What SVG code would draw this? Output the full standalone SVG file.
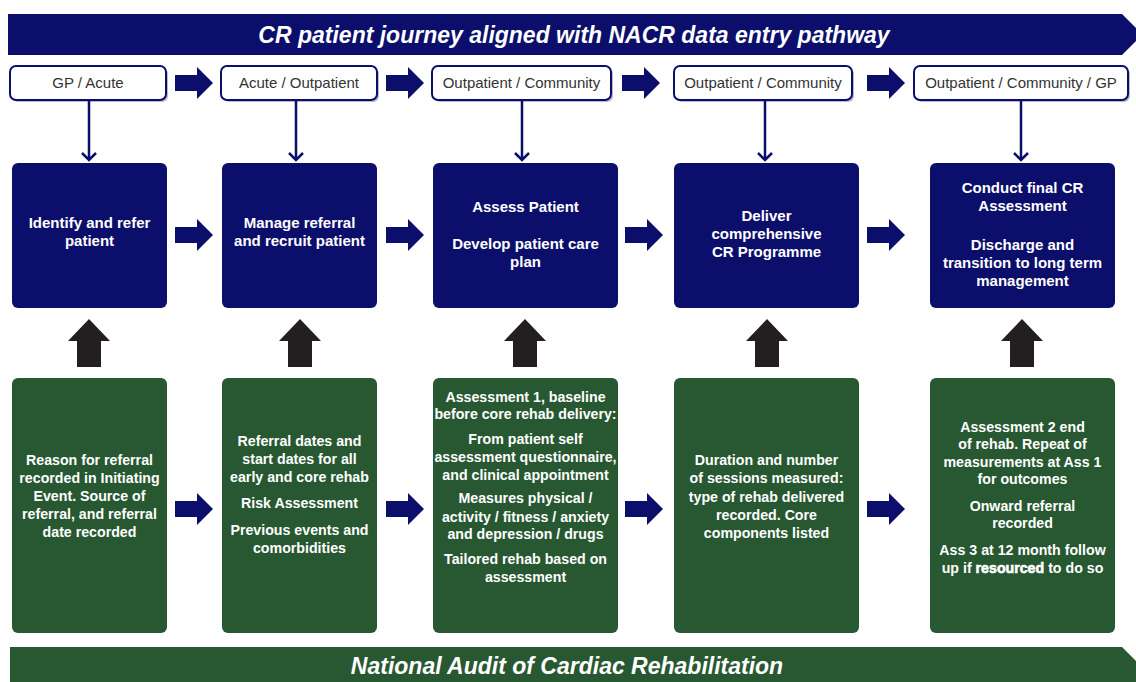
<svg xmlns="http://www.w3.org/2000/svg" width="1136" height="682" viewBox="0 0 1136 682">
<style>
.navy{fill:#0b0e6b}
.green{fill:#285832}
.loc{fill:#ffffff;stroke:#0b0e6b;stroke-width:2}
.shadow{fill:#b9bcc8}
.loct{font-family:"Liberation Sans",Arial,sans-serif;font-size:15px;fill:#333333;text-anchor:middle}
.bt{font-family:"Liberation Sans",Arial,sans-serif;font-size:15px;font-weight:bold;fill:#ffffff;text-anchor:middle}
.gt{font-family:"Liberation Sans",Arial,sans-serif;font-size:14.2px;font-weight:bold;fill:#ffffff;text-anchor:middle}
.hd{font-family:"Liberation Sans",Arial,sans-serif;font-size:23px;font-weight:bold;font-style:italic;fill:#ffffff;text-anchor:middle}
.conn{stroke:#0b0e6b;stroke-width:2.5;fill:none}
.blk{fill:#231f20}
.res{stroke:#ffffff;stroke-width:0.6}
</style>
<defs>
<path id="rarrow" d="M0,-8 H22 V-16 L38,0 L22,16 V8 H0 Z"/>
<path id="uarrow" d="M0,0 L21,22 H12 V48 H-12 V22 H-21 Z"/>
</defs>

<g id="banner-top">
<path class="navy" d="M8,14 H1122 L1136,28 V41 L1122,55 H8 Z"/>
<text class="hd" x="574" y="43">CR patient journey aligned with NACR data entry pathway</text>
</g>

<g id="banner-bottom">
<path class="green" d="M10,647 H1122 L1136,661 V682 H10 Z"/>
<text class="hd" x="567" y="674">National Audit of Cardiac Rehabilitation</text>
</g>

<g id="loc1">
<rect class="shadow" x="12" y="68" width="156" height="34" rx="6"/>
<rect class="loc" x="10" y="66" width="156" height="34" rx="6"/>
<text class="loct" x="88" y="88">GP / Acute</text>
</g>
<g id="loc2">
<rect class="shadow" x="223" y="68" width="156" height="34" rx="6"/>
<rect class="loc" x="221" y="66" width="156" height="34" rx="6"/>
<text class="loct" x="299" y="88">Acute / Outpatient</text>
</g>
<g id="loc3">
<rect class="shadow" x="434" y="68" width="179" height="34" rx="6"/>
<rect class="loc" x="432" y="66" width="179" height="34" rx="6"/>
<text class="loct" x="521.5" y="88">Outpatient / Community</text>
</g>
<g id="loc4">
<rect class="shadow" x="676" y="68" width="178" height="34" rx="6"/>
<rect class="loc" x="674" y="66" width="178" height="34" rx="6"/>
<text class="loct" x="763" y="88">Outpatient / Community</text>
</g>
<g id="loc5">
<rect class="shadow" x="916" y="68" width="214" height="34" rx="6"/>
<rect class="loc" x="914" y="66" width="214" height="34" rx="6"/>
<text class="loct" x="1021" y="88">Outpatient / Community / GP</text>
</g>

<g id="step1">
<rect class="navy" x="12" y="163" width="155" height="145" rx="6"/>
<text class="bt" x="89.5" y="228">Identify and refer</text>
<text class="bt" x="89.5" y="246">patient</text>
</g>
<g id="step2">
<rect class="navy" x="222" y="163" width="155" height="145" rx="6"/>
<text class="bt" x="299.5" y="228">Manage referral</text>
<text class="bt" x="299.5" y="246">and recruit patient</text>
</g>
<g id="step3">
<rect class="navy" x="433" y="163" width="185" height="145" rx="6"/>
<text class="bt" x="525.5" y="212">Assess Patient</text>
<text class="bt" x="525.5" y="249">Develop patient care</text>
<text class="bt" x="525.5" y="267">plan</text>
</g>
<g id="step4">
<rect class="navy" x="674" y="163" width="185" height="145" rx="6"/>
<text class="bt" x="766.5" y="221">Deliver</text>
<text class="bt" x="766.5" y="239">comprehensive</text>
<text class="bt" x="766.5" y="257">CR Programme</text>
</g>
<g id="step5">
<rect class="navy" x="930" y="163" width="185" height="145" rx="6"/>
<text class="bt" x="1022.5" y="193">Conduct final CR</text>
<text class="bt" x="1022.5" y="211">Assessment</text>
<text class="bt" x="1022.5" y="250">Discharge and</text>
<text class="bt" x="1022.5" y="268">transition to long term</text>
<text class="bt" x="1022.5" y="286">management</text>
</g>

<g id="data1">
<rect class="green" x="12" y="378" width="155" height="255" rx="6"/>
<text class="gt" x="89.5" y="465">Reason for referral</text>
<text class="gt" x="89.5" y="483">recorded in Initiating</text>
<text class="gt" x="89.5" y="501">Event. Source of</text>
<text class="gt" x="89.5" y="519">referral, and referral</text>
<text class="gt" x="89.5" y="537">date recorded</text>
</g>
<g id="data2">
<rect class="green" x="222" y="378" width="155" height="255" rx="6"/>
<text class="gt" x="299.5" y="446">Referral dates and</text>
<text class="gt" x="299.5" y="464">start dates for all</text>
<text class="gt" x="299.5" y="482">early and core rehab</text>
<text class="gt" x="299.5" y="508">Risk Assessment</text>
<text class="gt" x="299.5" y="535">Previous events and</text>
<text class="gt" x="299.5" y="553">comorbidities</text>
</g>
<g id="data3">
<rect class="green" x="433" y="378" width="185" height="255" rx="6"/>
<text class="gt" x="525.5" y="402">Assessment 1, baseline</text>
<text class="gt" x="525.5" y="419">before core rehab delivery:</text>
<text class="gt" x="525.5" y="444">From patient self</text>
<text class="gt" x="525.5" y="462">assessment questionnaire,</text>
<text class="gt" x="525.5" y="480">and clinical appointment</text>
<text class="gt" x="525.5" y="503">Measures physical /</text>
<text class="gt" x="525.5" y="522">activity / fitness / anxiety</text>
<text class="gt" x="525.5" y="539">and depression / drugs</text>
<text class="gt" x="525.5" y="564">Tailored rehab based on</text>
<text class="gt" x="525.5" y="582">assessment</text>
</g>
<g id="data4">
<rect class="green" x="674" y="378" width="185" height="255" rx="6"/>
<text class="gt" x="766.5" y="465">Duration and number</text>
<text class="gt" x="766.5" y="483">of sessions measured:</text>
<text class="gt" x="766.5" y="502">type of rehab delivered</text>
<text class="gt" x="766.5" y="520">recorded. Core</text>
<text class="gt" x="766.5" y="538">components listed</text>
</g>
<g id="data5">
<rect class="green" x="930" y="378" width="185" height="255" rx="6"/>
<text class="gt" x="1022.5" y="432">Assessment 2 end</text>
<text class="gt" x="1022.5" y="449">of rehab. Repeat of</text>
<text class="gt" x="1022.5" y="467">measurements at Ass 1</text>
<text class="gt" x="1022.5" y="484">for outcomes</text>
<text class="gt" x="1022.5" y="511">Onward referral</text>
<text class="gt" x="1022.5" y="528">recorded</text>
<text class="gt" x="1022.5" y="555">Ass 3 at 12 month follow</text>
<text class="gt" x="1022.5" y="573">up if <tspan class="res">resourced</tspan> to do so</text>
</g>

<g id="connectors">
<g class="navy">
<use href="#rarrow" x="175" y="83"/>
<use href="#rarrow" x="386" y="83"/>
<use href="#rarrow" x="622" y="83"/>
<use href="#rarrow" x="867" y="83"/>
<use href="#rarrow" x="175" y="235"/>
<use href="#rarrow" x="386" y="235"/>
<use href="#rarrow" x="625" y="235"/>
<use href="#rarrow" x="867" y="235"/>
<use href="#rarrow" x="175" y="509"/>
<use href="#rarrow" x="386" y="509"/>
<use href="#rarrow" x="625" y="509"/>
<use href="#rarrow" x="867" y="509"/>
</g>
<g class="conn">
<path d="M89,101 V160 M82,153 L89,160 L96,153"/>
<path d="M296,101 V160 M289,153 L296,160 L303,153"/>
<path d="M522,101 V160 M515,153 L522,160 L529,153"/>
<path d="M765,101 V160 M758,153 L765,160 L772,153"/>
<path d="M1021,101 V160 M1014,153 L1021,160 L1028,153"/>
</g>
<g class="blk">
<use href="#uarrow" x="89" y="319"/>
<use href="#uarrow" x="300" y="319"/>
<use href="#uarrow" x="525" y="319"/>
<use href="#uarrow" x="767" y="319"/>
<use href="#uarrow" x="1022" y="319"/>
</g>
</g>
</svg>
